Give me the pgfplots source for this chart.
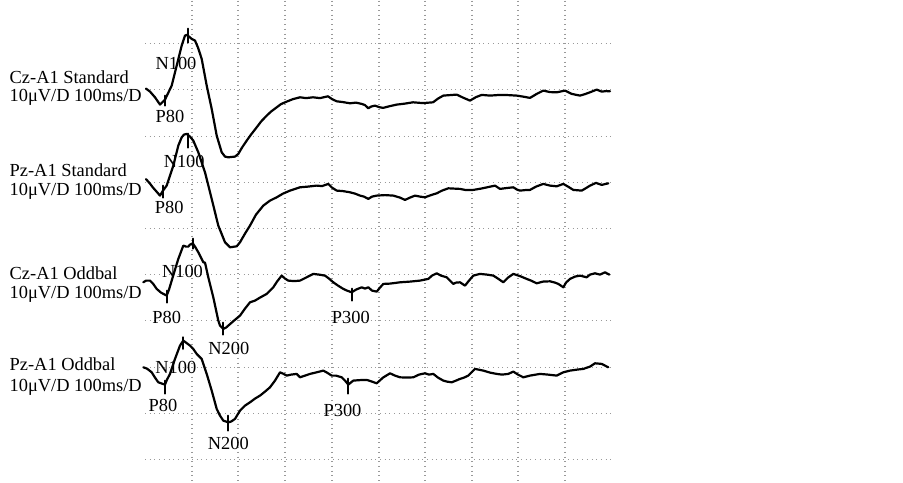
\documentclass[border=0pt]{standalone}
\usepackage{pgfplots}
\pgfplotsset{compat=1.18}
\usepackage{fontspec}
\setmainfont{Liberation Serif}
\begin{document}
\begin{tikzpicture}[lbl/.style={font=\fontsize{9.2}{10}\selectfont, inner sep=0pt},
  trace/.style={black, line width=1.1pt, line join=round, line cap=round, mark=none}]
\begin{axis}[
  width=451.5pt, height=240.5pt, scale only axis,
  xmin=0, xmax=903, ymin=0, ymax=481, y dir=reverse,
  axis line style={draw=none}, ticks=none, clip=false,
]
\path (axis cs:0,0) rectangle (axis cs:903,481);
% grid
\foreach \yy in {43,89,136,182,228,274,320,367,413,459}{
  \edef\tmp{\noexpand\draw[gray!80, line width=0.6pt, dash pattern=on 0.5pt off 1.85pt] (axis cs:145,\yy) -- (axis cs:611,\yy);}\tmp
}
\foreach \xx in {192,238,285,332,379,425,472,518,565}{
  \edef\tmp{\noexpand\draw[gray!80, line width=0.6pt, dash pattern=on 0.5pt off 1.85pt] (axis cs:\xx,0) -- (axis cs:\xx,481);}\tmp
}
% Trace 1: Cz-A1 Standard
\addplot[trace] coordinates {(146,88) (150,91) (155,96.7) (160,104) (165,99) (171.7,85) (176.7,65) (181.7,45) (185,35) (186.7,34.3) (189,36) (191.7,38.3) (195,40) (198,47) (201.7,58.3) (206.7,85) (211.7,108.3) (216.7,135) (221.7,151.7) (225,156) (228.3,156.7) (235,156) (238.3,153.3) (242,147) (246.7,140) (251,134) (256.7,126.7) (261,121) (266.7,115) (271,111) (276.7,106.7) (281,103.5) (286.7,101) (293,98.5) (300,96.7) (306,97.5) (313,96.7) (320,97.5) (328,95.7) (332,98.5) (336.7,100.7) (343,101.5) (350,102.7) (356,102) (361.7,103.3) (365,104.5) (368.3,107.7) (371,106) (375,105) (379,106.5) (383,107.3) (390,105.5) (396.7,104) (405,103) (413,101.7) (423,102.5) (433,101.7) (438,98) (443.3,95) (450,94.5) (456.7,94) (463,97) (470,100) (476,96.5) (481.7,94.3) (490,95) (500,94.3) (508,94.5) (516.7,95) (523,96) (530,97.3) (536.7,93.3) (543.3,90) (550,91.5) (556.7,91.7) (565,90) (571.7,93.3) (580,95) (585,93.5) (590,91.7) (596.7,89) (601.7,91) (606,90.5) (610,90.7)};
\addplot[trace] coordinates {(165,95) (165,105)};
\addplot[trace] coordinates {(187.7,28) (187.7,42)};
% Trace 2: Pz-A1 Standard
\addplot[trace] coordinates {(146,178.5) (150,183) (153,187) (157,191.5) (160,195) (163,190) (166.7,185) (173.3,165) (178.3,145) (181.7,136.7) (184,134) (186.7,133.3) (190,136) (193.3,140) (198.3,151.7) (205,171.7) (211.7,198.3) (218.3,225) (225,241.7) (230,246.7) (236.7,245.7) (240,241.7) (245,233) (250,225) (256,214) (263.3,205) (270,200) (276.7,196.7) (283,193) (290,190) (300,186.7) (308,186) (316.7,185) (322,185.5) (328.3,183.3) (332,187) (336.7,190) (343,190.5) (350,191.7) (355,193) (360,195) (364,196) (368.3,198.3) (372,196) (376.7,195) (385,194.5) (393.3,195) (400,197) (405,199.3) (410,197) (415,195) (420,196) (425,196.7) (431,194.5) (436.7,192.7) (442,190) (448.3,187.7) (454,188) (460,188.3) (466,189.5) (473.3,189.3) (481,188) (488,186.5) (495,185) (500,188.3) (506,187.5) (513.3,186.7) (517,189) (520,190) (525,189.5) (530,189.3) (536,186) (543.3,183.3) (550,185) (556.7,185.7) (563.3,183.3) (568,186) (573.3,189.3) (581.7,190) (586,187.5) (590,185) (596,182.3) (601.7,184.3) (608.3,182.7)};
\addplot[trace] coordinates {(163.3,185) (163.3,197)};
\addplot[trace] coordinates {(188.3,133) (188.3,147)};
% Trace 3: Cz-A1 Oddbal
\addplot[trace] coordinates {(143.3,281.7) (146,280) (150,280) (153,283) (156.7,288.3) (161,292) (166.7,295) (169,289) (171.7,280) (175,269) (178.3,258.3) (183.3,245) (186,246) (188.3,246) (190,244) (192.7,242.7) (195,246) (198.3,251.7) (203.3,261.7) (205,262) (208.3,276.7) (213.3,296.7) (218.3,320) (220,325) (223.3,328.3) (226,327) (228.3,325) (234,320) (240,315) (245,308) (250,301.7) (255,300) (260,297) (266.7,293.3) (270,290) (273.3,286.7) (277,281) (281.7,275) (285,278) (288.3,280) (294,280.5) (300,280) (306,277) (313.3,273.3) (319,274) (325,275) (329,278) (333.3,281.7) (338,285) (343.3,288.3) (347,290) (351.7,291.7) (356,289) (361.7,286.7) (365,288) (368.3,286.7) (372,290) (376.7,291) (380,287) (383.3,283.3) (390,283) (400,281.7) (410,281) (420,280) (428.3,278.3) (432,275) (436.7,272.7) (441,275) (446.7,276.7) (450,280) (453.3,283.3) (456,282) (460,281.7) (465,285) (469,280) (473.3,275) (480,273.3) (487,274) (493.3,275) (498,278) (503.3,281.7) (508,277) (513.3,273.3) (520,275.5) (526.7,278.3) (531,280) (536.7,282.7) (543,281) (550,280.7) (555,282) (558.3,283.3) (563.3,286.7) (566,282) (570,278.3) (575,276) (580,275) (586.7,276.7) (590,274) (595,272.7) (600,274) (605,271.7) (609.3,274)};
\addplot[trace] coordinates {(166.7,290) (166.7,302)};
\addplot[trace] coordinates {(192.7,238) (192.7,248)};
\addplot[trace] coordinates {(223.3,322) (223.3,334)};
\addplot[trace] coordinates {(351.7,288) (351.7,300)};
% Trace 4: Pz-A1 Oddbal
\addplot[trace] coordinates {(143.3,366.7) (147,368) (151.7,371.7) (155,377) (158.3,381.7) (162,383) (165,384) (167,379) (170,373.3) (175,358.3) (180,345) (183.3,340) (186,342) (190,345) (193,348) (196.7,353.3) (201.7,358.3) (206.7,373.3) (211.7,390) (216.7,408.3) (220,415) (223.3,420) (228.3,421.7) (231,421) (235,418.3) (240,410) (245,405) (250,401.7) (255,398) (260,395) (265,391) (270,386.7) (275,380) (280,371.7) (283,373) (286.7,375) (291,374) (296.7,373.3) (300,376.7) (305,375) (310,373.3) (316.7,371.7) (323.3,370) (327,372) (331.7,375) (336,375) (341.7,376.7) (345,380) (348.3,384) (353.3,380) (360,379.5) (366.7,379.3) (372,381) (376.7,382.7) (383,377) (390,372.7) (395,375) (400,376.7) (407,377) (413.3,376.7) (419,374) (425,372.7) (429,374) (433.3,373.3) (438,377) (443.3,380) (447,381) (451.7,381.7) (456,380) (460,378.3) (464,377) (468.3,375) (475,368.3) (483.3,370) (490,372) (496.7,373.3) (502,374) (508.3,373.3) (513.3,371) (518,374) (523.3,376.7) (530,375) (540,373.3) (548,374) (556.7,375) (563.3,371.7) (570,370) (577,369) (583.3,368.3) (590,366) (595,362.7) (601.7,363.3) (608.3,366.7)};
\addplot[trace] coordinates {(165,380) (165,393)};
\addplot[trace] coordinates {(183.3,336.7) (183.3,348.3)};
\addplot[trace] coordinates {(228.3,415) (228.3,430)};
\addplot[trace] coordinates {(348.3,378) (348.3,393)};
% left labels
\node[lbl, anchor=base west] at (axis cs:9.3,82.7) {Cz-A1 Standard};
\node[lbl, anchor=base west] at (axis cs:9.3,100.5) {10μV/D 100ms/D};
\node[lbl, anchor=base west] at (axis cs:9.3,176) {Pz-A1 Standard};
\node[lbl, anchor=base west] at (axis cs:9.3,195) {10μV/D 100ms/D};
\node[lbl, anchor=base west] at (axis cs:9.3,279) {Cz-A1 Oddbal};
\node[lbl, anchor=base west] at (axis cs:9.3,298.3) {10μV/D 100ms/D};
\node[lbl, anchor=base west] at (axis cs:9.3,370) {Pz-A1 Oddbal};
\node[lbl, anchor=base west] at (axis cs:9.3,390.7) {10μV/D 100ms/D};
% peak labels
\node[lbl, anchor=base] at (axis cs:176,68.5) {N100};
\node[lbl, anchor=base] at (axis cs:170,121.7) {P80};
\node[lbl, anchor=base] at (axis cs:184.2,166.5) {N100};
\node[lbl, anchor=base] at (axis cs:169.3,213.3) {P80};
\node[lbl, anchor=base] at (axis cs:182.5,276.7) {N100};
\node[lbl, anchor=base] at (axis cs:166.7,323.3) {P80};
\node[lbl, anchor=base] at (axis cs:228.8,354) {N200};
\node[lbl, anchor=base] at (axis cs:350.8,323.3) {P300};
\node[lbl, anchor=base] at (axis cs:175.8,372.7) {N100};
\node[lbl, anchor=base] at (axis cs:163,411) {P80};
\node[lbl, anchor=base] at (axis cs:228.3,449) {N200};
\node[lbl, anchor=base] at (axis cs:342.5,415.7) {P300};
\end{axis}
\end{tikzpicture}
\end{document}
